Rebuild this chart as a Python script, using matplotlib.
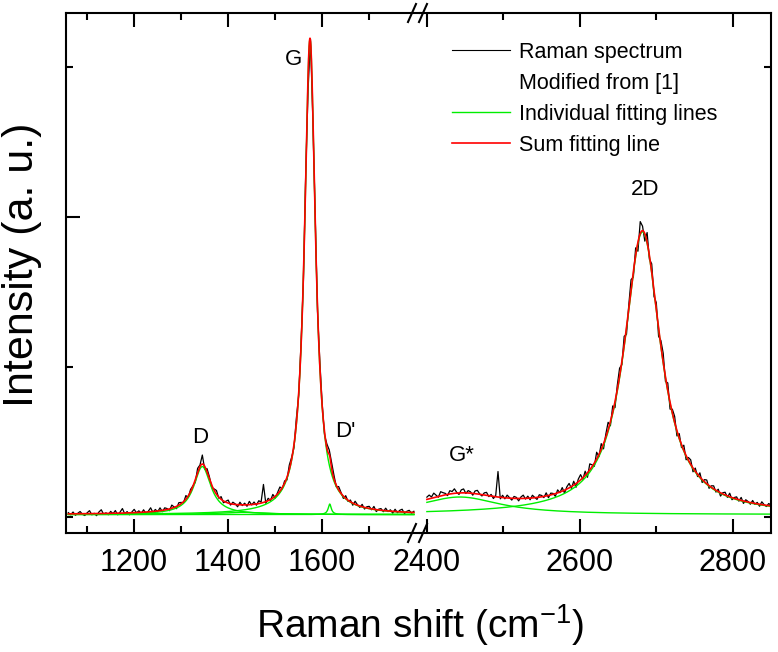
import numpy as np
import matplotlib.pyplot as plt
from matplotlib.lines import Line2D

plt.rcParams['font.family'] = ['Liberation Sans', 'DejaVu Sans']
plt.rcParams['mathtext.default'] = 'regular'

#%% fitted Lorentz peaks
peak_names = ["D", "D-G bump", "G", "D'", "G*", "2D"]
peak_centers = [1345, 1430, 1574, 1616, 2443, 2682]
peak_heights = [0.32, 0.015, 3.17, 0.07, 0.117, 1.885]
peak_hwhm = [22, 60, 14, 4, 65, 29]
y0 = 0.016
left_peaks = [0, 1, 2, 3]
right_peaks = [4, 5]

# raw spectrum = sum fit + residual (x1000), left part from 1060 step 5, right from 2400 step 3
res_left = [8, -6, 12, -10, 3, 15, -4, -12, 6, 20, -8, 2, -14, 10, 25, -5, 4, -9, 13, -3,
            18, -11, 7, 30, -6, 9, -13, 5, 22, -2, 11, -8, 16, -10, 4, 26, -7, 12, -5, 19,
            -9, 14, 6, -12, 21, 3, -15, 17, 8, -6, 24, -11, 15, 2, -18, 28, 10, 60, -20, 22,
            14, -16, 9, 25, -7, 18, -12, 6, 20, -9, 13, 4, -14, 17, -5, 11, -10, 22, -3, 15,
            -8, 19, 7, 120, -11, 16, -6, 24, -13, 10, 28, -9, 15, -18, 30, 12, -20, 35, -15, 25,
            -30, 40, -100, 10, -40, 30, -25, 35, 15, -20, 28, 30, 40, 25, -10, 22, 5, -15, 18, -8,
            12, -14, 20, 3, -9, 16, -11, 8, 14, -6, 19, -13, 5, 11, -8, 17, -4, 9, -12, 15,
            -7, 10, 18, -10, 6, 13, -5, 8]
res_right = [15, 25, 8, 30, 12, -5, 28, 18, 10, -8, 22, 14, 30, 5, -10, 20, 26, -4, 16, 9,
             -12, 18, 24, 3, -9, 14, 20, -6, 11, -14, 8, 170, -10, 15, -7, 19, 4, -12, 13, 7,
             -16, 10, 22, -5, 14, -11, 18, 2, -13, 16, 9, -8, 21, -15, 12, 6, -18, 20, -4, 24,
             -20, 15, 30, -12, 26, -25, 18, 35, -10, 28, -30, 40, 12, -22, 45, -15, 38, -35, 20, 50,
             -28, 42, -40, 30, 55, -20, 60, -45, 25, 70, -35, 50, -60, 80, 30, -50, 65, -25, 55, -40,
             45, -55, 35, 60, -30, 50, -45, 25, 40, -35, 30, -20, 35, -28, 18, 30, -25, 22, -15, 28,
             -20, 14, 25, -18, 10, 20, -12, 16, -22, 8, 18, -10, 24, -14, 6, 15, -9, 20, -16, 12,
             4, -11, 17, -6, 10, -13, 19, 2, -8, 14, 6]


def lorentz(x, i):
    return peak_heights[i] / (1 + ((x - peak_centers[i]) / peak_hwhm[i]) ** 2)


def fit_sum(x, idx):
    return y0 + sum(lorentz(x, i) for i in idx)


#%%
fig = plt.figure(figsize=(7.78, 6.52), dpi=100)
W, H = 778, 652
ax1 = fig.add_axes([66 / W, 1 - 533 / H, (420 - 66) / W, (533 - 13) / H])
ax2 = fig.add_axes([420 / W, 1 - 533 / H, (771 - 420) / W, (533 - 13) / H])

xl = np.linspace(1060, 1795, 2000)
xr = np.linspace(2400, 2850, 2000)
x_raw_l = 1060 + 5 * np.arange(len(res_left))
x_raw_r = 2400 + 3 * np.arange(len(res_right))

for ax, x, xraw, res, idx in [(ax1, xl, x_raw_l, res_left, left_peaks),
                              (ax2, xr, x_raw_r, res_right, right_peaks)]:
    ax.plot(xraw, fit_sum(xraw, idx) + np.array(res) / 1000., color="black", lw=0.9)
    for i in idx:
        ax.plot(x, y0 + lorentz(x, i), color="#00ee00", lw=1.0)
    ax.plot(x, fit_sum(x, idx), color="red", lw=1.2)
    ax.set_ylim(-0.107, 3.36)
    ax.tick_params(which="both", direction="in", top=True, width=1.5,
                   labelsize=22, pad=11)
    ax.tick_params(which="major", length=10)
    ax.tick_params(which="minor", length=5)
    for s in ax.spines.values():
        s.set_linewidth(1.5)

ax1.set_xlim(1055, 1808)
ax2.set_xlim(2391, 2850)
ax1.set_xticks([1200, 1400, 1600])
ax1.set_xticks([1100, 1300, 1500, 1700], minor=True)
ax2.set_xticks([2400, 2600, 2800])
ax2.set_xticks([2500, 2700], minor=True)

ax1.spines["right"].set_visible(False)
ax2.spines["left"].set_visible(False)
ax1.set_yticks([2])
ax1.set_yticks([0, 1, 3], minor=True)
ax1.tick_params(axis="y", which="both", labelleft=False, right=False)
ax2.set_yticks([])
ax2.set_yticks([0, 3], minor=True)
ax2.tick_params(axis="y", which="both", left=False, right=True, labelleft=False)

# peak labels
for ax, name, px, py in [(ax1, "D", 1340, 0.53), (ax1, "G", 1538, 3.05), (ax1, "D'", 1649, 0.57),
                         (ax2, "G*", 2446, 0.41), (ax2, "2D", 2685, 2.18)]:
    ax.text(px, py, name, fontsize=16, ha="center", va="center")

# axis break marks
for yb in [13, 533]:
    for xb in [412, 423]:
        fig.add_artist(Line2D([(xb - 4) / W, (xb + 4) / W], [1 - (yb + 9) / H, 1 - (yb - 9) / H],
                              transform=fig.transFigure, color="black", lw=1.5))

fig.text(420 / W, 1 - 625 / H, "Raman shift (cm$^{-1}$)", fontsize=28, ha="center", va="center")
fig.text(22 / W, 1 - 265 / H, "Intensity (a. u.)", fontsize=31, rotation=90, ha="center", va="center")

handles = [Line2D([], [], color="black", lw=0.8),
           Line2D([], [], color="none"),
           Line2D([], [], color="#00ee00", lw=1.0),
           Line2D([], [], color="red", lw=1.2)]
labels = ["Raman spectrum", "Modified from [1]", "Individual fitting lines", "Sum fitting line"]
fig.legend(handles, labels, loc="upper left", bbox_to_anchor=(452 / W, 1 - 42 / H),
           frameon=False, fontsize=15.5, handlelength=2.7, handletextpad=0.4,
           labelspacing=0.46, borderpad=0, borderaxespad=0)

fig.savefig("out.png", dpi=100)
